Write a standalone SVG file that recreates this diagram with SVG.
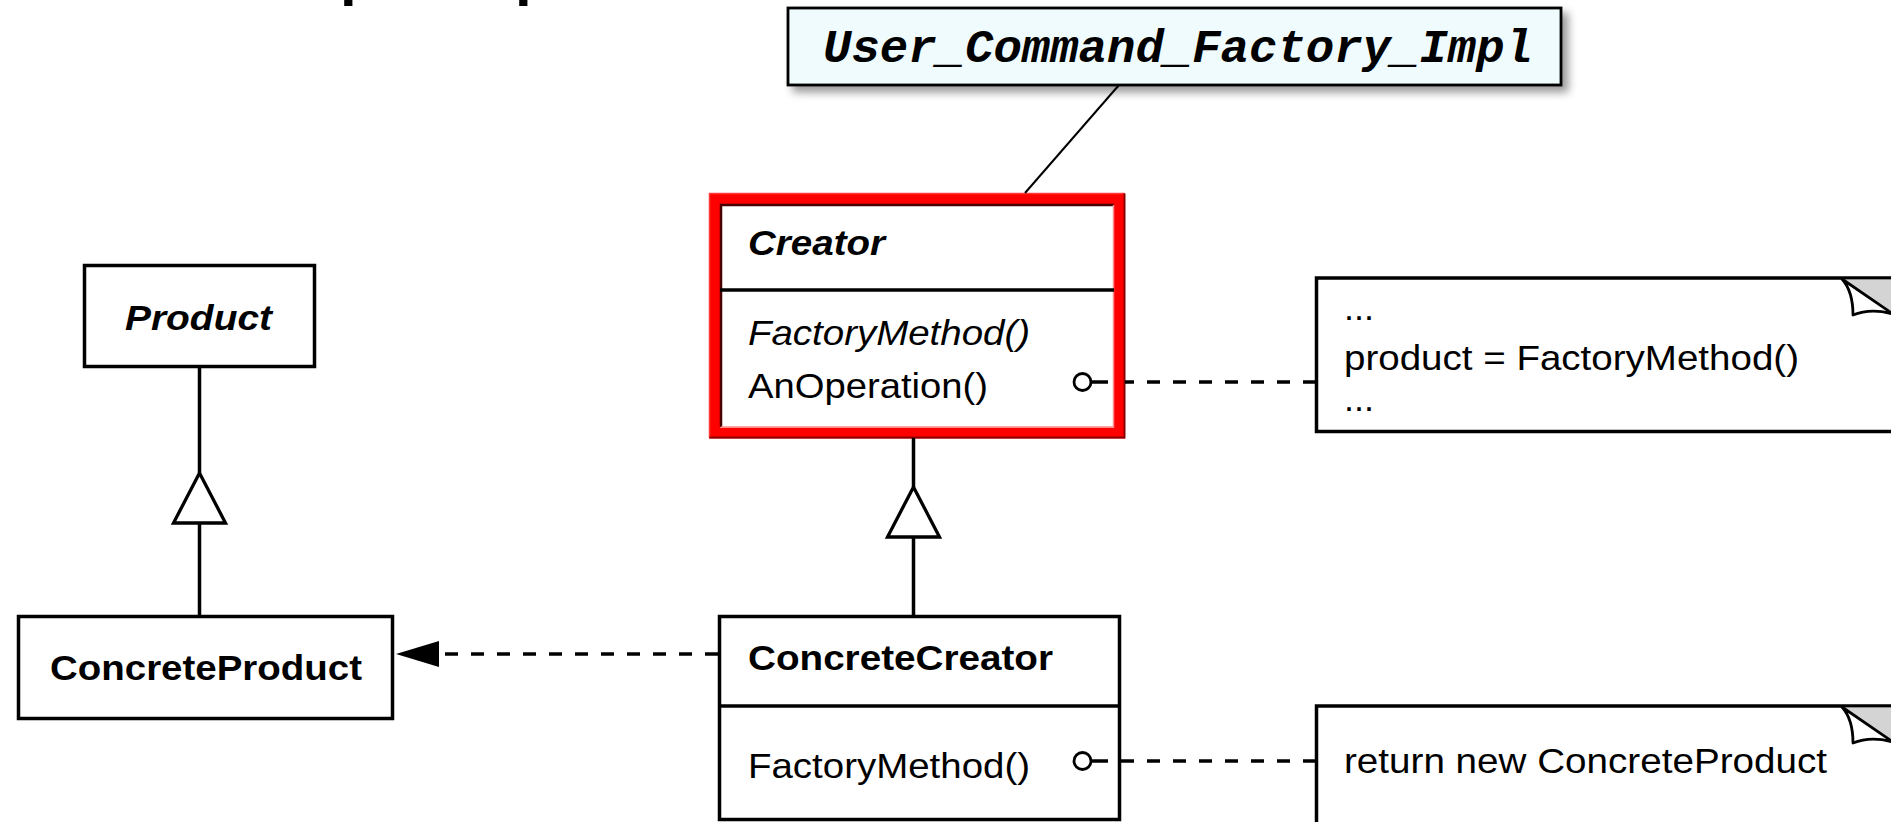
<svg xmlns="http://www.w3.org/2000/svg" width="1891" height="822" viewBox="0 0 1891 822">
  <defs>
    <filter id="soft-shadow" x="-5%" y="-20%" width="115%" height="170%">
      <feDropShadow dx="6" dy="6" stdDeviation="4" flood-color="#000" flood-opacity="0.4"/>
    </filter>
    <!-- hollow generalization triangle, apex at origin -->
    <polygon id="gen" points="0,0 -26,50 26,50" fill="#fff" stroke="#000" stroke-width="3.3" stroke-linejoin="miter"/>
    <!-- dog-ear of a note, anchored at the fold start on the top edge -->
    <g id="dogear">
      <polygon points="0,1.5 55,1.5 55,38" fill="#d4d4d4"/>
      <path d="M0,1 C9,11 11,23 11,37 C23,32 37,32 51,36 Z" fill="#fff" stroke="#000" stroke-width="2.8" stroke-linejoin="round"/>
    </g>
    <style>
      .box{fill:#fff;stroke:#000;stroke-width:3.5}
      .rule{stroke:#000;stroke-width:3.5}
      .t{font-family:"Liberation Sans",Arial,sans-serif;font-size:35px;fill:#000}
      .b{font-weight:bold}
      .i{font-style:italic}
      .mono{font-family:"Liberation Mono","Courier New",monospace;font-size:46px;font-weight:bold;font-style:italic;fill:#000}
      .title{font-family:"Liberation Sans",Arial,sans-serif;font-size:60px;font-weight:bold;fill:#000}
      .solid{stroke:#000;stroke-width:3.5;fill:none}
      .dash{stroke:#000;stroke-width:3.5;fill:none;stroke-dasharray:13 13}
      .pin{fill:#fff;stroke:#000;stroke-width:2.8}
    </style>
  </defs>

  <rect width="1891" height="822" fill="#fff"/>

  <!-- heading above the visible area: only the descenders reach in -->
  <text class="title" x="340" y="-6">p</text>
  <text class="title" x="515" y="-6">p</text>

  <g id="product">
    <rect class="box" x="84.5" y="265.5" width="230" height="101"/>
    <text class="t b i" x="125" y="330" textLength="147" lengthAdjust="spacingAndGlyphs">Product</text>
  </g>

  <g id="concrete-product">
    <rect class="box" x="18.5" y="616.5" width="374" height="102"/>
    <text class="t b" x="50" y="680" textLength="312" lengthAdjust="spacingAndGlyphs">ConcreteProduct</text>
  </g>

  <g id="creator">
    <rect x="714.5" y="198.5" width="405" height="234.5" fill="#fff" stroke="#f00" stroke-width="11"/>
    <!-- bevel: light outer top/left, dark outer bottom/right, dark inner top/left, light inner bottom/right -->
    <path d="M709.5,437.5 V193.5 H1124.5" fill="none" stroke="#ff3b3b" stroke-width="1.5"/>
    <path d="M709.5,437.5 H1124.5 V193.5" fill="none" stroke="#8a0000" stroke-width="2"/>
    <path d="M1114,205 H721 V427" fill="none" stroke="#4a0000" stroke-width="2.5"/>
    <path d="M721,427 H1113.5 V205" fill="none" stroke="#ff8c8c" stroke-width="1.5"/>
    <line class="rule" x1="720" y1="290" x2="1114" y2="290"/>
    <text class="t b i" x="748" y="255" textLength="137" lengthAdjust="spacingAndGlyphs">Creator</text>
    <text class="t i" x="748" y="345" textLength="282" lengthAdjust="spacingAndGlyphs">FactoryMethod()</text>
    <text class="t" x="748" y="398" textLength="240" lengthAdjust="spacingAndGlyphs">AnOperation()</text>
  </g>

  <g id="concrete-creator">
    <rect class="box" x="719.5" y="616.5" width="400" height="203"/>
    <line class="rule" x1="719.5" y1="706" x2="1119.5" y2="706"/>
    <text class="t b" x="748" y="670" textLength="305" lengthAdjust="spacingAndGlyphs">ConcreteCreator</text>
    <text class="t" x="748" y="778" textLength="282" lengthAdjust="spacingAndGlyphs">FactoryMethod()</text>
  </g>

  <g id="note-operation">
    <rect class="box" x="1316.5" y="278" width="640" height="153.5"/>
    <use href="#dogear" x="1842" y="278"/>
    <text class="t" x="1344" y="320" textLength="30" lengthAdjust="spacingAndGlyphs">...</text>
    <text class="t" x="1344" y="370" textLength="455" lengthAdjust="spacingAndGlyphs">product = FactoryMethod()</text>
    <text class="t" x="1344" y="411" textLength="30" lengthAdjust="spacingAndGlyphs">...</text>
  </g>

  <g id="note-factory-method">
    <rect class="box" x="1316.5" y="706" width="640" height="140"/>
    <use href="#dogear" x="1842" y="706"/>
    <text class="t" x="1344" y="773" textLength="483" lengthAdjust="spacingAndGlyphs">return new ConcreteProduct</text>
  </g>

  <g id="label">
    <rect x="788" y="8" width="773" height="77" fill="#effbfc" stroke="#000" stroke-width="2.8" filter="url(#soft-shadow)"/>
    <text class="mono" x="823" y="62" textLength="710" lengthAdjust="spacingAndGlyphs">User_Command_Factory_Impl</text>
  </g>

  <g id="connectors">
    <!-- label attached to Creator -->
    <line x1="1119" y1="85" x2="1025" y2="193" stroke="#000" stroke-width="2"/>

    <!-- ConcreteProduct inherits Product -->
    <line class="solid" x1="199.5" y1="368" x2="199.5" y2="473"/>
    <use href="#gen" x="199.5" y="473"/>
    <line class="solid" x1="199.5" y1="523" x2="199.5" y2="615"/>

    <!-- ConcreteCreator inherits Creator -->
    <line class="solid" x1="913.5" y1="438" x2="913.5" y2="487"/>
    <use href="#gen" x="913.5" y="487"/>
    <line class="solid" x1="913.5" y1="537" x2="913.5" y2="615"/>

    <!-- ConcreteCreator creates ConcreteProduct -->
    <line class="dash" x1="718" y1="654" x2="440" y2="654"/>
    <polygon points="396,654 439,641 439,667" fill="#000"/>

    <!-- AnOperation() to its note -->
    <circle class="pin" cx="1082.5" cy="382" r="8.5"/>
    <line class="solid" x1="1091" y1="382" x2="1108" y2="382"/>
    <line class="dash" x1="1316" y1="382" x2="1125" y2="382"/>

    <!-- FactoryMethod() to its note -->
    <circle class="pin" cx="1082.5" cy="761" r="8.5"/>
    <line class="solid" x1="1091" y1="761" x2="1108" y2="761"/>
    <line class="dash" x1="1316" y1="761" x2="1121" y2="761"/>
  </g>
</svg>
